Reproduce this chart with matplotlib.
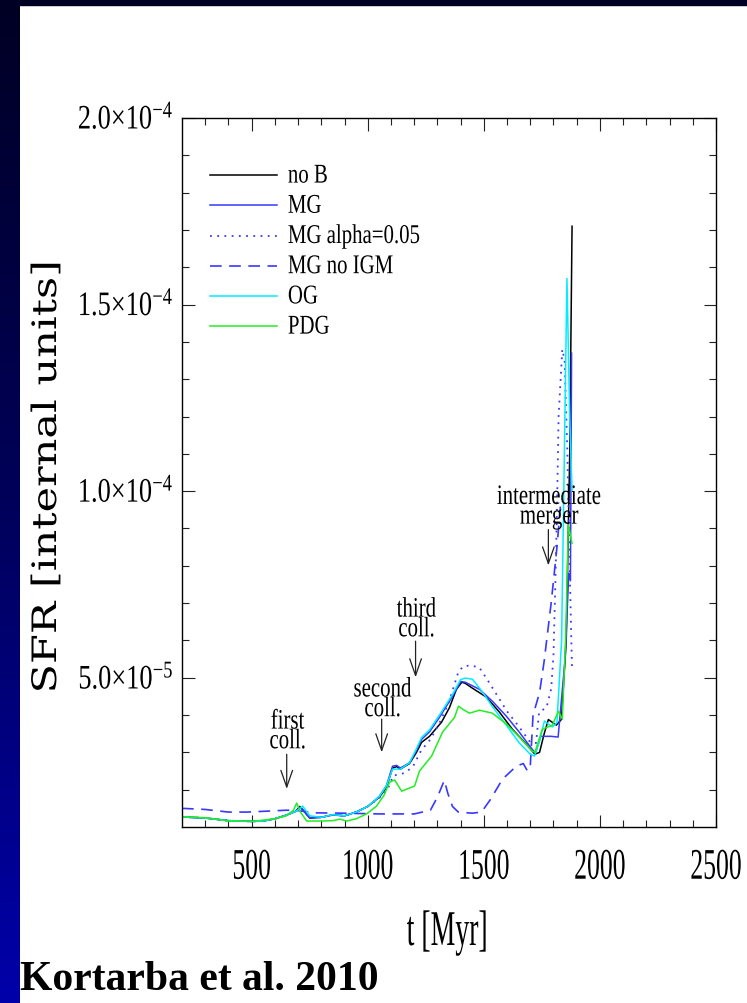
## SFR vs time plot (IDL style figure, Kortarba et al. 2010)

import numpy as np
import matplotlib
matplotlib.use('Agg')
import matplotlib.pyplot as plt
import matplotlib.patheffects as pe
from matplotlib.transforms import Affine2D
from matplotlib.patches import Rectangle
from matplotlib.colors import LinearSegmentedColormap

## DATA  (t in Myr, SFR in units of 1e-5)
t_nob = [200, 300, 400, 500, 550, 600, 650, 690, 707, 722, 750, 800, 850, 900, 950, 1000, 1050, 1080,
         1107, 1125, 1140, 1180, 1210, 1232, 1266, 1318, 1352, 1382, 1405, 1420, 1451, 1511, 1567, 1623,
         1683, 1720, 1740, 1760, 1778, 1812, 1834, 1855, 1870, 1880]
sfr_nob = [1.27, 1.24, 1.17, 1.15, 1.16, 1.22, 1.32, 1.42, 1.55, 1.45, 1.24, 1.26, 1.33, 1.30, 1.40, 1.55,
           1.80, 2.05, 2.58, 2.62, 2.55, 2.70, 3.00, 3.27, 3.43, 3.81, 4.20, 4.69, 4.88, 4.85, 4.72, 4.48,
           4.08, 3.62, 3.22, 2.95, 3.00, 3.50, 3.88, 3.73, 3.88, 6.0, 11.0, 17.1]

t_mg = [200, 300, 400, 500, 550, 600, 650, 690, 707, 722, 750, 800, 850, 900, 950, 1000, 1050, 1080,
        1107, 1125, 1140, 1180, 1210, 1232, 1266, 1309, 1365, 1400, 1420, 1481, 1537, 1597, 1653, 1700,
        1722, 1745, 1790, 1820, 1850, 1866, 1873, 1878]
sfr_mg = [1.27, 1.24, 1.17, 1.15, 1.16, 1.22, 1.32, 1.42, 1.52, 1.45, 1.25, 1.26, 1.32, 1.30, 1.40, 1.55,
          1.82, 2.10, 2.63, 2.65, 2.58, 2.72, 3.05, 3.35, 3.55, 3.94, 4.50, 4.90, 4.88, 4.69, 4.37, 3.97,
          3.54, 3.15, 2.98, 3.43, 3.43, 3.41, 5.5, 7.8, 7.6, 13.7]

t_alpha = [200, 300, 400, 500, 550, 600, 650, 690, 710, 750, 800, 850, 900, 950, 1000, 1050, 1085, 1110,
           1130, 1160, 1195, 1230, 1270, 1310, 1350, 1390, 1410, 1440, 1480, 1520, 1560, 1600, 1650, 1700,
           1725, 1738, 1770, 1790, 1800, 1808, 1815, 1822, 1838, 1848, 1860, 1868, 1875, 1880]
sfr_alpha = [1.27, 1.24, 1.17, 1.15, 1.16, 1.22, 1.32, 1.42, 1.52, 1.25, 1.26, 1.33, 1.30, 1.40, 1.55, 1.78,
             2.00, 2.38, 2.40, 2.45, 2.62, 3.05, 3.35, 3.80, 4.35, 5.15, 5.30, 5.33, 5.28, 4.90, 4.50, 4.10,
             3.70, 3.27, 3.25, 4.08, 4.20, 4.70, 5.60, 7.50, 9.50, 12.0, 13.8, 13.5, 11.0, 8.5, 6.5, 5.2]

t_noigm = [200, 300, 400, 480, 550, 650, 700, 760, 900, 1050, 1200, 1270, 1300, 1330, 1345, 1365, 1390,
           1450, 1490, 1530, 1580, 1640, 1670, 1688, 1700, 1712, 1740, 1760, 1790, 1815, 1830]
sfr_noigm = [1.50, 1.47, 1.40, 1.40, 1.42, 1.45, 1.44, 1.38, 1.37, 1.35, 1.35, 1.45, 1.80, 2.25, 1.90, 1.55,
             1.40, 1.37, 1.40, 1.75, 2.28, 2.63, 2.70, 2.50, 2.62, 4.00, 4.60, 5.45, 7.00, 8.50, 9.60]

t_og = [200, 300, 400, 500, 550, 600, 650, 690, 705, 720, 750, 800, 850, 900, 950, 1000, 1050, 1080,
        1107, 1125, 1140, 1180, 1210, 1232, 1266, 1309, 1365, 1400, 1420, 1451, 1490, 1540, 1600, 1653,
        1700, 1718, 1740, 1761, 1795, 1815, 1835, 1858, 1870, 1880]
sfr_og = [1.27, 1.24, 1.17, 1.15, 1.16, 1.22, 1.32, 1.42, 1.48, 1.56, 1.30, 1.26, 1.33, 1.30, 1.40, 1.55,
          1.82, 2.10, 2.55, 2.55, 2.55, 2.72, 3.10, 3.40, 3.60, 4.00, 4.55, 4.95, 4.99, 4.96, 4.65, 4.20,
          3.70, 3.25, 2.95, 2.90, 3.30, 3.84, 3.68, 3.80, 6.0, 15.7, 12.0, 10.0]

t_pdg = [200, 300, 400, 500, 600, 650, 680, 694, 710, 737, 800, 850, 880, 910, 950, 995, 1038, 1070, 1094,
         1116, 1146, 1202, 1223, 1275, 1322, 1374, 1391, 1408, 1438, 1481, 1537, 1597, 1653, 1709, 1720,
         1752, 1795, 1821, 1838, 1852, 1864, 1880]
sfr_pdg = [1.27, 1.25, 1.16, 1.15, 1.22, 1.30, 1.45, 1.64, 1.40, 1.16, 1.16, 1.17, 1.21, 1.16, 1.22, 1.35,
           1.56, 1.85, 2.20, 2.26, 1.96, 2.10, 2.50, 2.90, 3.54, 3.94, 4.24, 4.16, 4.05, 4.13, 4.05, 3.76,
           3.41, 3.03, 3.00, 3.62, 3.73, 4.10, 3.89, 6.0, 9.1, 8.6]

x_ticks = [500, 1000, 1500, 2000, 2500]
y_ticks = [5e-5, 1e-4, 1.5e-4, 2e-4]
y_ticklabels = [r'5.0$\times$10$^{-5}$', r'1.0$\times$10$^{-4}$', r'1.5$\times$10$^{-4}$', r'2.0$\times$10$^{-4}$']

# (label, t of arrow, text baseline, arrow tail, arrow tip) sfr in 1e-5
events = [('first\ncoll.', 651, 3.11, 2.95, 2.02),
          ('second\ncoll.', 1060, 3.97, 3.89, 3.00),
          ('third\ncoll.', 1206, 6.11, 5.98, 5.01),
          ('intermediate\nmerger', 1778, 9.13, 8.97, 8.01)]

SCALE = 1e-5


class Tall(pe.AbstractPathEffect):
    # stretch glyphs from the baseline, IDL hershey fonts are tall and narrow
    def __init__(self, sy):
        super().__init__()
        self.sy = sy

    def draw_path(self, renderer, gc, tpath, affine, rgbFace=None):
        renderer.draw_path(gc, tpath, Affine2D().scale(1.0, self.sy) + affine, rgbFace)


plt.rcParams['mathtext.fontset'] = 'custom'
plt.rcParams['mathtext.rm'] = 'Liberation Serif'
plt.rcParams['mathtext.it'] = 'Liberation Serif:italic'
plt.rcParams['mathtext.bf'] = 'Liberation Serif:bold'

fig = plt.figure(figsize=(7.47, 10.04), dpi=100, facecolor='white')

## slide background bits: gradient strip on the left, dark band on top
bg = fig.add_axes([0, 0, 20 / 747, 1])
cmap = LinearSegmentedColormap.from_list('slide', ['#000024', '#00005a', '#0000aa'])
bg.imshow(np.linspace(0, 1, 256).reshape(-1, 1), aspect='auto', cmap=cmap)
bg.set_axis_off()
fig.add_artist(Rectangle((0, 1 - 6 / 1004), 1, 6 / 1004, transform=fig.transFigure,
                         color='#000024', zorder=0))

ax = fig.add_axes([182 / 747, 1 - 828 / 1004, (716 - 182) / 747, (828 - 119) / 1004])

blue = '#3838ff'
ax.plot(t_nob, np.array(sfr_nob) * SCALE, color='black', lw=1.1, label='no B')
ax.plot(t_mg, np.array(sfr_mg) * SCALE, color=blue, lw=1.1, label='MG')
ax.plot(t_alpha, np.array(sfr_alpha) * SCALE, color=blue, lw=1.3, ls=(0, (1, 3)), label='MG alpha=0.05')
ax.plot(t_noigm, np.array(sfr_noigm) * SCALE, color=blue, lw=1.2, ls=(0, (7, 4.5)), label='MG no IGM')
ax.plot(t_og, np.array(sfr_og) * SCALE, color='#00eeff', lw=1.1, label='OG')
ax.plot(t_pdg, np.array(sfr_pdg) * SCALE, color='#22ee22', lw=1.1, label='PDG')

ax.set_xlim(200, 2500)
ax.set_ylim(1e-5, 2e-4)

ax.set_xticks(x_ticks)
ax.set_xticks(np.arange(300, 2500, 100), minor=True)
ax.set_yticks(y_ticks)
ax.set_yticklabels(y_ticklabels)
ax.set_yticks(np.arange(2e-5, 2e-4, 1e-5), minor=True)

ax.tick_params(which='both', direction='in', top=True, right=True, width=0.8, color='#222222')
ax.tick_params(which='major', length=9)
ax.tick_params(which='minor', length=5)
ax.tick_params(axis='x', pad=25, labelsize=18.5, labelfontfamily='Liberation Serif')
ax.tick_params(axis='y', pad=6, labelsize=19, labelfontfamily='Liberation Serif')
for lab in ax.get_xticklabels():
    lab.set_path_effects([Tall(1.7)])
for lab in ax.get_yticklabels():
    lab.set_path_effects([Tall(1.3)])
for s in ax.spines.values():
    s.set_linewidth(1.0)

## legend
leg = ax.legend(loc='upper left', bbox_to_anchor=(0.052, 0.9295), frameon=False,
                prop={'family': 'Liberation Serif', 'size': 15}, handlelength=3.25,
                handletextpad=0.5, labelspacing=0.51, borderpad=0, borderaxespad=0)
for txt in leg.get_texts():
    txt.set_path_effects([Tall(1.3)])

## event arrows
for label, t_ev, base, tail, tip in events:
    ax.annotate('', xy=(t_ev, tip * SCALE), xytext=(t_ev, tail * SCALE),
                arrowprops=dict(arrowstyle='->,head_length=1.2,head_width=0.42', lw=0.9,
                                color='#222222', shrinkA=0, shrinkB=0))
    ax.text(t_ev + 4, base * SCALE, label, ha='center', va='baseline', fontsize=15,
            family='Liberation Serif', linespacing=1.05, multialignment='center',
            path_effects=[Tall(1.35)])

## axis titles
fig.text(447 / 747, 1 - 946 / 1004, 't [Myr]', ha='center', va='baseline', fontsize=20,
         family='Liberation Serif', path_effects=[Tall(1.8)])
fig.text(56 / 747, 1 - 478 / 1004, 'SFR [internal units]', rotation=90, rotation_mode='anchor',
         ha='center', va='baseline', fontsize=31, family='DejaVu Serif', path_effects=[Tall(0.78)])

fig.text(20 / 747, 1 - 990 / 1004, 'Kortarba et al. 2010', ha='left', va='baseline', fontsize=30,
         fontweight='bold', family='Liberation Serif')

fig.savefig('out.png', dpi=100)
